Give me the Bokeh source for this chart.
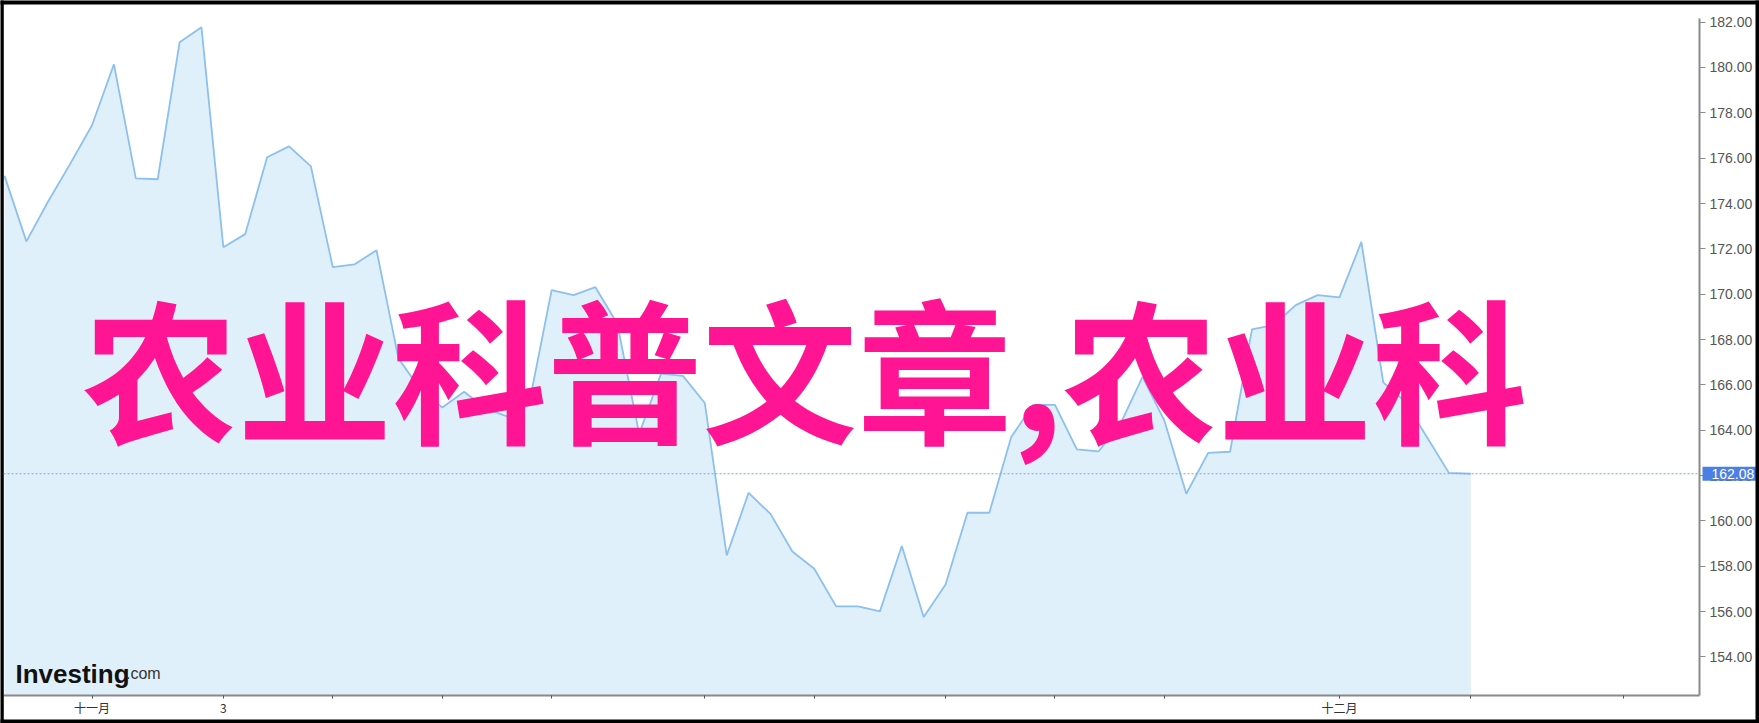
from bokeh.plotting import figure
from bokeh.models import Range1d, FixedTicker, Span, Label, NumeralTickFormatter
from bokeh.embed import file_html
from bokeh.resources import INLINE

# ---- data ----
prices = [
    175.22, 172.33, 174.10, 175.75, 177.45, 180.14, 175.11, 175.07, 181.11, 181.77,
    172.07, 172.65, 176.04, 176.52, 175.64, 171.19, 171.32, 171.94, 167.17, 165.80,
    165.00, 165.70, 164.95, 164.60, 165.30, 170.18, 169.96, 170.31, 168.70, 163.84,
    166.50, 166.40, 165.20, 158.48, 161.24, 160.31, 158.65, 157.89, 156.23, 156.23,
    156.01, 158.89, 155.76, 157.20, 160.36, 160.36, 163.70, 165.12, 165.12, 163.16,
    163.07, 164.30, 166.35, 164.42, 161.20, 163.00, 163.05, 168.45, 168.64, 169.52,
    169.96, 169.86, 172.31, 166.11, 165.26, 163.69, 162.12, 162.08,
]
idx = list(range(len(prices)))
x_tick_positions = [4, 10, 15, 20, 25, 32, 37, 43, 48, 53, 61, 67, 74]
x_tick_labels = {4: "十一月", 10: "3", 61: "十二月"}
y_ticks = [154, 156, 158, 160, 162, 164, 166, 168, 170, 172, 174, 176, 178, 180, 182]
last_price = 162.08
last_price_label = "162.08"
overlay_text = "农业科普文章,农业科"
logo_main = "Investing"
logo_suffix = ".com"

W, H = 1759, 723

# ---- figure ----
p = figure(
    width=W, height=H,
    output_backend="svg", toolbar_location=None,
    x_range=Range1d(-0.046, 77.45), y_range=Range1d(152.30, 182.16),
    y_axis_location="right",
    min_border_left=0, min_border_top=0, min_border_right=57, min_border_bottom=24,
)
p.outline_line_color = None
p.background_fill_color = "white"
p.border_fill_color = "white"
p.xgrid.visible = False
p.ygrid.visible = False

base = 140
p.varea(x=idx, y1=[base] * len(prices), y2=prices, fill_color="#e0f0fa")
p.line(idx, prices, line_color="#8cc0ee", line_width=1.8)

p.add_layout(Span(location=last_price, dimension="width", line_color="#7fa0ef",
                  line_dash="2 2", line_width=1.2))

# x axis
xa = p.xaxis[0]
xa.ticker = FixedTicker(ticks=x_tick_positions)
xa.major_label_overrides = {t: x_tick_labels.get(t, "") for t in x_tick_positions}
xa.axis_line_color = "#8a8a8a"
xa.axis_line_width = 2
xa.major_tick_line_color = "#555555"
xa.major_tick_out = 3
xa.major_tick_in = 0
xa.minor_tick_line_color = None
xa.major_label_standoff = 0
xa.major_label_text_font = "Noto Sans CJK SC"
xa.major_label_text_font_size = "12px"
xa.major_label_text_color = "#333333"

# y axis (right)
ya = p.yaxis[0]
ya.ticker = FixedTicker(ticks=y_ticks)
ya.formatter = NumeralTickFormatter(format="0.00")
ya.axis_line_color = "#8a8a8a"
ya.axis_line_width = 2
ya.major_tick_line_color = "#8a8a8a"
ya.major_tick_out = 6
ya.major_tick_in = 0
ya.minor_tick_line_color = None
ya.major_label_standoff = 4
ya.major_label_text_font = "Liberation Sans"
ya.major_label_text_font_size = "14px"
ya.major_label_text_color = "#555555"

# last price marker on the axis (in a side panel so it is not clipped to the frame)
p.add_layout(Label(
    x=1702, x_units="canvas", y=last_price, text=last_price_label,
    text_align="left", text_baseline="middle",
    text_color="white", text_font="Liberation Sans", text_font_size="14px",
    background_fill_color="#4b7fe6",
    padding=dict(left=9, right=2, top=2, bottom=2),
), "above")


# dark frame around the picture: four thin filled strips, one per side panel
def strip(x, y, w, h):
    return Label(
        x=x, y=y, x_units="canvas", y_units="canvas", text=" ",
        text_align="left", text_baseline="top", text_font_size="1px",
        text_color="black", background_fill_color="black",
        padding=dict(left=0, right=w, top=0, bottom=h),
    )


p.add_layout(strip(0, 0, 3, H), "left")
p.add_layout(strip(W - 4, 0, 4, H), "right")
p.add_layout(strip(0, 0, W, 3), "above")
p.add_layout(strip(0, H - 4, W, 4), "below")

# big overlay text
p.add_layout(Label(
    x=3.55, y=166.92, text=overlay_text,
    text_align="left", text_baseline="middle",
    text_color="#ff1493", text_font="Noto Sans CJK SC",
    text_font_size="155px", text_font_style="bold",
))

# logo
p.add_layout(Label(
    x=0.5, y=153.26, text=logo_main,
    text_align="left", text_baseline="alphabetic",
    text_color="#111111", text_font="Liberation Sans",
    text_font_size="26px", text_font_style="bold",
))
p.add_layout(Label(
    x=5.55, y=153.26, text=logo_suffix,
    text_align="left", text_baseline="alphabetic",
    text_color="#333333", text_font="Liberation Sans",
    text_font_size="16px",
))

open("out.html", "w").write(file_html(p, INLINE))
